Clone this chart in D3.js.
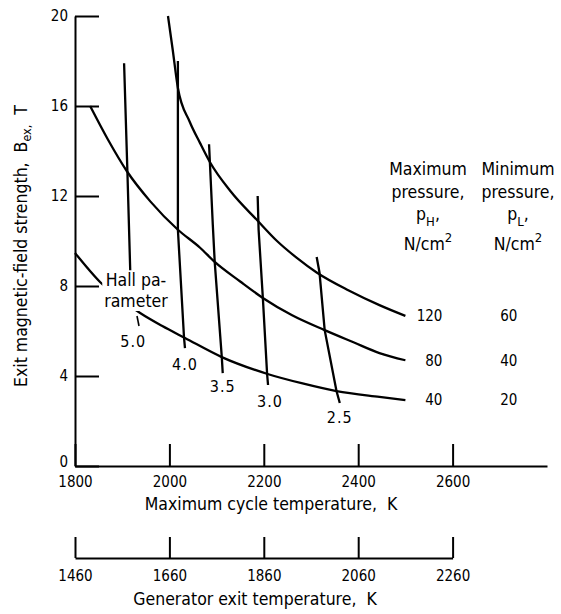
<!DOCTYPE html>
<html>
<head>
<meta charset="utf-8">
<script src="https://cdn.jsdelivr.net/npm/d3@7"></script>
<style>
body { margin: 0; background: #fff; }
svg { display: block; font-family: 'DejaVu Sans Condensed', 'DejaVu Sans', sans-serif; font-stretch: condensed; }
</style>
</head>
<body>
<div id="chart"></div>
<script>
// tick values
var tempTicks = [1800, 2000, 2200, 2400, 2600];
var genTicks = [1460, 1660, 1860, 2060, 2260];
var fieldTicks = [0, 4, 8, 12, 16, 20];

// pressure curves, [max cycle temperature K, exit field T]
var maxPressure = ["120", "80", "40"];
var minPressure = ["60", "40", "20"];
var curve120 = [[1997,20],[2007,18.5],[2018,16.8],[2043,15.3],[2065,14.35],[2086,13.5],[2130,12.2],[2187,10.9],[2228,10.0],[2270,9.25],[2312,8.6],[2380,7.8],[2445,7.15],[2500,6.67]];
var curve80 = [[1832,16],[1870,14.5],[1910,13.1],[1960,11.75],[2018,10.5],[2065,9.7],[2096,9.07],[2150,8.2],[2198,7.47],[2260,6.7],[2329,6.04],[2390,5.5],[2445,5.02],[2500,4.7]];
var curve40 = [[1800,9.47],[1853,8.18],[1938,6.8],[1985,6.22],[2033,5.69],[2111,4.84],[2208,4.09],[2280,3.68],[2354,3.33],[2445,3.07],[2500,2.93]];

// Hall parameter lines
var hallValues = ["5.0", "4.0", "3.5", "3.0", "2.5"];
var hall50 = [[1904,17.9],[1911,13.1],[1917,8.7]];
var hall40 = [[2018,18.0],[2018,10.5],[2031,5.7],[2033,5.24]];
var hall35 = [[2084,14.3],[2092,10.7],[2096,9.07],[2111,4.84],[2113,4.13]];
var hall30 = [[2187,12.0],[2189,10.5],[2198,7.47],[2207,4.09],[2209,3.6]];
var hall25 = [[2312,9.29],[2318,8.6],[2329,6.04],[2354,3.33],[2361,2.8]];

var width = 561, height = 614;
var svg = d3.select("#chart").append("svg")
    .attr("width", width)
    .attr("height", height);

var x = d3.scaleLinear().domain([1800, 2800]).range([75, 547]);
var xGen = d3.scaleLinear().domain([1460, 2260]).range([75, x(2600)]);
var y = d3.scaleLinear().domain([0, 20]).range([466, 16]);

function styleAxis(g, size) {
    g.attr("font-family", null).attr("font-size", size);
    g.select(".domain").attr("stroke-width", 2);
    g.selectAll(".tick line").attr("stroke-width", 2);
    g.selectAll(".tick text").attr("fill", "#000");
}

// axis-y
svg.append("g")
    .attr("transform", "translate(" + x(1800) + ",0)")
    .call(d3.axisLeft(y).tickValues(fieldTicks).tickFormat(d3.format("d"))
        .tickSizeInner(-24).tickSizeOuter(0).tickPadding(7))
    .call(styleAxis, 15)
    .selectAll(".tick text")
    .attr("dy", function (d) { return d === 0 ? "0.05em" : "0.32em"; });

// axis-x (max cycle temperature)
svg.append("g")
    .attr("transform", "translate(0," + y(0) + ")")
    .call(d3.axisBottom(x).tickValues(tempTicks).tickFormat(d3.format("d"))
        .tickSizeInner(-22).tickSizeOuter(0).tickPadding(10))
    .call(styleAxis, 15);

// second x axis (generator exit temperature)
svg.append("g")
    .attr("transform", "translate(0,558)")
    .call(d3.axisBottom(xGen).tickValues(genTicks).tickFormat(d3.format("d"))
        .tickSizeInner(-21).tickSizeOuter(0).tickPadding(12))
    .call(styleAxis, 15);

// axis titles
svg.append("text")
    .attr("x", 271).attr("y", 510)
    .attr("text-anchor", "middle").attr("font-size", 17.5)
    .text("Maximum cycle temperature,\u00a0\u00a0K");

svg.append("text")
    .attr("x", 255).attr("y", 605)
    .attr("text-anchor", "middle").attr("font-size", 17.5)
    .text("Generator exit temperature,\u00a0\u00a0K");

var yt = svg.append("text")
    .attr("transform", "translate(27,246) rotate(-90)")
    .attr("text-anchor", "middle").attr("font-size", 17.5);
yt.append("tspan").text("Exit magnetic-field strength,\u00a0\u00a0B");
yt.append("tspan").attr("font-size", 12.5).attr("dy", 4).text("ex,");
yt.append("tspan").attr("dy", -4).text("\u00a0\u00a0T");

var line = d3.line()
    .x(function (d) { return x(d[0]); })
    .y(function (d) { return y(d[1]); });

// pressure curves
var curves = [curve120, curve80, curve40];
svg.selectAll(".pcurve")
    .data(curves)
    .enter().append("path")
    .attr("class", "pcurve")
    .attr("d", function (d) { return line.curve(d3.curveMonotoneX)(d); })
    .attr("fill", "none")
    .attr("stroke", "#000")
    .attr("stroke-width", 2.3);

// hall parameter label, white box cuts the 40 curve
var hallLab = svg.append("g");
var hl = hallLab.append("text")
    .attr("x", 136).attr("y", 286)
    .attr("text-anchor", "middle").attr("font-size", 17.5);
hl.append("tspan").attr("x", 136).text("Hall pa-");
hl.append("tspan").attr("x", 136).attr("dy", 21).text("rameter");
var bb = hl.node().getBBox();
hallLab.insert("rect", "text")
    .attr("x", bb.x - 2).attr("y", bb.y + 2)
    .attr("width", bb.width + 4).attr("height", bb.height - 2)
    .attr("fill", "#fff");

// hall parameter lines
var halls = [hall50, hall40, hall35, hall30, hall25];
svg.selectAll(".hline")
    .data(halls)
    .enter().append("path")
    .attr("class", "hline")
    .attr("d", function (d) { return line.curve(d3.curveLinear)(d); })
    .attr("fill", "none")
    .attr("stroke", "#000")
    .attr("stroke-width", 2.3);

var hallDy = [71, 16, 13, 16, 14];
var hallDx = [3, 0, 0, 2, 0];
svg.selectAll(".hlab")
    .data(halls)
    .enter().append("text")
    .attr("class", "hlab")
    .attr("x", function (d, i) { return x(d[d.length - 1][0]) + hallDx[i]; })
    .attr("y", function (d, i) { return y(d[d.length - 1][1]) + hallDy[i]; })
    .attr("dy", "0.36em")
    .attr("text-anchor", "middle")
    .attr("font-size", 16)
    .attr("letter-spacing", 1)
    .text(function (d, i) { return hallValues[i]; });

// leader from label to 5.0
svg.append("line")
    .attr("x1", 137).attr("y1", 316)
    .attr("x2", 139).attr("y2", 326)
    .attr("stroke", "#000").attr("stroke-width", 1.6);

// curve-end pressure labels
svg.selectAll(".maxlab")
    .data(curves)
    .enter().append("text")
    .attr("x", function (d) { return x(d[d.length - 1][0]) + 37; })
    .attr("y", function (d) { return y(d[d.length - 1][1]); })
    .attr("dy", "0.36em")
    .attr("text-anchor", "end").attr("font-size", 15)
    .text(function (d, i) { return maxPressure[i]; });

svg.selectAll(".minlab")
    .data(curves)
    .enter().append("text")
    .attr("x", function (d) { return x(d[d.length - 1][0]) + 112; })
    .attr("y", function (d) { return y(d[d.length - 1][1]); })
    .attr("dy", "0.36em")
    .attr("text-anchor", "end").attr("font-size", 15)
    .text(function (d, i) { return minPressure[i]; });

// column headers
function header(cx, first, sub) {
    var g = svg.append("g").attr("font-size", 17.5).attr("text-anchor", "middle");
    g.append("text").attr("x", cx).attr("y", 175).text(first);
    g.append("text").attr("x", cx).attr("y", 198).text("pressure,");
    var p = g.append("text").attr("x", cx).attr("y", 220);
    p.append("tspan").text("p");
    p.append("tspan").attr("font-size", 13).attr("dy", 6).text(sub);
    p.append("tspan").attr("dy", -6).text(",");
    var n = g.append("text").attr("x", cx).attr("y", 250);
    n.append("tspan").text("N/cm");
    n.append("tspan").attr("font-size", 13).attr("dy", -8).text("2");
}
header(428, "Maximum", "H");
header(518, "Minimum", "L");
</script>
</body>
</html>
